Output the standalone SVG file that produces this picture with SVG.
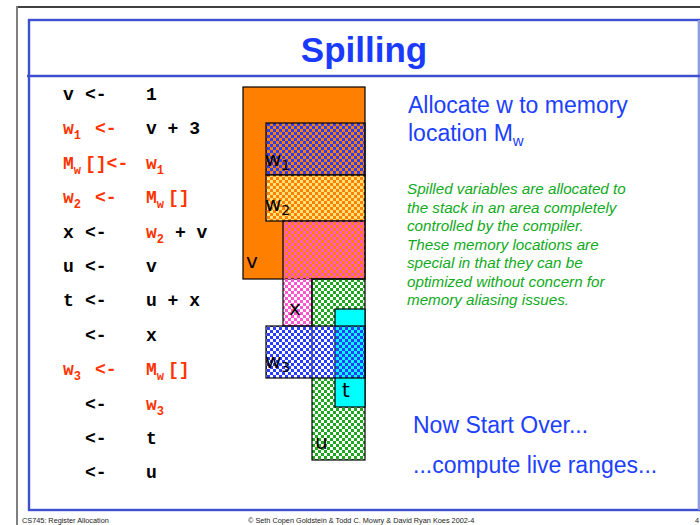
<svg xmlns="http://www.w3.org/2000/svg" width="700" height="525" viewBox="0 0 700 525">
  <style>
    .code { font-family: "Liberation Mono", "Courier New", monospace; font-weight: bold; font-size: 18px; fill: #000; }
    .red { fill: #ff3300; }
    .sub { font-size: 12px; }
    .lbl { font-family: "DejaVu Sans", Verdana, sans-serif; font-size: 20px; fill: #000; }
    .lsub { font-size: 14px; }
    .blue { font-family: "Liberation Sans", Arial, sans-serif; fill: #2040ff; }
    .note { font-family: "Liberation Sans", Arial, sans-serif; font-style: italic; font-size: 15.2px; fill: #11aa22; }
    .foot { font-family: "Liberation Sans", Arial, sans-serif; font-size: 7.3px; fill: #222; }
    .box { stroke: #000; stroke-width: 1.2; }
  </style>
  <defs>
    <pattern id="chkBlue" width="6" height="6" patternUnits="userSpaceOnUse">
      <rect x="0" y="0" width="3" height="3" fill="#2a3cff"/>
      <rect x="3" y="3" width="3" height="3" fill="#2a3cff"/>
    </pattern>
    <pattern id="chkYellow" width="6" height="6" patternUnits="userSpaceOnUse">
      <rect x="0" y="0" width="3" height="3" fill="#ffe27a"/>
      <rect x="3" y="3" width="3" height="3" fill="#ffe27a"/>
    </pattern>
    <pattern id="chkPink" width="6" height="6" patternUnits="userSpaceOnUse">
      <rect x="0" y="0" width="3" height="3" fill="#ff55d0"/>
      <rect x="3" y="3" width="3" height="3" fill="#ff55d0"/>
    </pattern>
    <pattern id="chkGreen" width="6" height="6" patternUnits="userSpaceOnUse">
      <rect x="0" y="0" width="3" height="3" fill="#1fa81f"/>
      <rect x="3" y="3" width="3" height="3" fill="#1fa81f"/>
    </pattern>
  </defs>

  <rect width="700" height="525" fill="#fff"/>

  <!-- slide frame -->
  <g id="frame">
    <line x1="17" y1="7" x2="700" y2="7" stroke="#000" stroke-width="1.5"/>
    <line x1="17" y1="6" x2="17" y2="525" stroke="#7f7f7f" stroke-width="2"/>
    <rect x="29" y="20" width="670" height="490" fill="none" stroke="#3f50cf" stroke-width="2.4"/>
    <line x1="699" y1="20" x2="699" y2="510" stroke="#aeb4e4" stroke-width="1.5"/>
    <line x1="27" y1="76" x2="700" y2="76" stroke="#3f50cf" stroke-width="2.4"/>
  </g>

  <g id="title">
    <text x="364" y="62" text-anchor="middle" font-family="Liberation Sans, Arial, sans-serif" font-weight="bold" font-size="35" fill="#1a3aff">Spilling</text>
  </g>

  <!-- code listing -->
  <g id="code">
    <text class="code" x="63" y="100">v <tspan x="85">&lt;-</tspan><tspan x="146">1</tspan></text>
    <text class="code red" x="63" y="134.4">w<tspan class="sub" dy="5">1</tspan><tspan x="95" dy="-5">&lt;-</tspan></text>
    <text class="code" x="146" y="134.4">v + 3</text>
    <text class="code red" x="63" y="168.8">M<tspan class="sub" dy="5">w</tspan><tspan x="85" dy="-5">[]&lt;-</tspan></text>
    <text class="code red" x="146" y="168.8">w<tspan class="sub" dy="5">1</tspan></text>
    <text class="code red" x="63" y="203.2">w<tspan class="sub" dy="5">2</tspan><tspan x="95" dy="-5">&lt;-</tspan></text>
    <text class="code red" x="146" y="203.2">M<tspan class="sub" dy="5">w</tspan><tspan x="168" dy="-5">[]</tspan></text>
    <text class="code" x="63" y="237.6">x <tspan x="85">&lt;-</tspan></text>
    <text class="code red" x="146" y="237.6">w<tspan class="sub" dy="5">2</tspan></text>
    <text class="code" x="175" y="237.6">+ v</text>
    <text class="code" x="63" y="272">u <tspan x="85">&lt;-</tspan><tspan x="146">v</tspan></text>
    <text class="code" x="63" y="306.4">t <tspan x="85">&lt;-</tspan><tspan x="146">u + x</tspan></text>
    <text class="code" x="85" y="340.8">&lt;-<tspan x="146">x</tspan></text>
    <text class="code red" x="63" y="375.2">w<tspan class="sub" dy="5">3</tspan><tspan x="95" dy="-5">&lt;-</tspan></text>
    <text class="code red" x="146" y="375.2">M<tspan class="sub" dy="5">w</tspan><tspan x="168" dy="-5">[]</tspan></text>
    <text class="code" x="85" y="409.6">&lt;-</text>
    <text class="code red" x="146" y="409.6">w<tspan class="sub" dy="5">3</tspan></text>
    <text class="code" x="85" y="444">&lt;-<tspan x="146">t</tspan></text>
    <text class="code" x="85" y="478.4">&lt;-<tspan x="146">u</tspan></text>
  </g>

  <!-- live ranges -->
  <g id="range-v">
    <rect class="box" x="243" y="87" width="122" height="192" fill="#ff7f00"/>
    <text class="lbl" x="246" y="268">v</text>
  </g>
  <g id="range-w1">
    <rect class="box" x="266" y="123" width="99" height="52" fill="url(#chkBlue)"/>
    <text class="lbl" x="265" y="166">w<tspan class="lsub" dy="4">1</tspan></text>
  </g>
  <g id="range-w2">
    <rect class="box" x="266" y="175" width="99" height="46" fill="url(#chkYellow)"/>
    <text class="lbl" x="265" y="211">w<tspan class="lsub" dy="4">2</tspan></text>
  </g>
  <g id="range-x">
    <path class="box" d="M283,221 H365 V279 H312 V326 H283 Z" fill="url(#chkPink)"/>
    <text class="lbl" x="289" y="315">x</text>
  </g>
  <g id="range-u">
    <rect class="box" x="312" y="279" width="53" height="181" fill="url(#chkGreen)"/>
    <text class="lbl" x="315" y="449">u</text>
  </g>
  <g id="range-t">
    <rect class="box" x="335" y="309" width="30" height="98" fill="#00ffff"/>
    <text class="lbl" x="342" y="397">t</text>
  </g>
  <g id="range-w3">
    <rect class="box" x="266" y="326" width="99" height="52" fill="url(#chkBlue)"/>
    <text class="lbl" x="265" y="368">w<tspan class="lsub" dy="4">3</tspan></text>
  </g>

  <!-- explanation -->
  <g id="notes">
    <text class="blue" font-size="23" x="408" y="113">Allocate w to memory</text>
    <text class="blue" font-size="23" x="408" y="141">location M<tspan font-size="15" dy="5">w</tspan></text>
    <text class="note" x="407" y="194">Spilled variables are allocated to</text>
    <text class="note" x="407" y="212.5">the stack in an area completely</text>
    <text class="note" x="407" y="231">controlled by the compiler.</text>
    <text class="note" x="407" y="249.5">These memory locations are</text>
    <text class="note" x="407" y="268">special in that they can be</text>
    <text class="note" x="407" y="286.5">optimized without concern for</text>
    <text class="note" x="407" y="305">memory aliasing issues.</text>
    <text class="blue" font-size="23" x="413" y="433">Now Start Over...</text>
    <text class="blue" font-size="23" x="413" y="473">...compute live ranges...</text>
  </g>

  <g id="footer">
    <text class="foot" x="22" y="523">CS745: Register Allocation</text>
    <text class="foot" x="248" y="523">© Seth Copen Goldstein &amp; Todd C. Mowry &amp; David Ryan Koes 2002-4</text>
    <text class="foot" x="695" y="523">4</text>
  </g>
</svg>
